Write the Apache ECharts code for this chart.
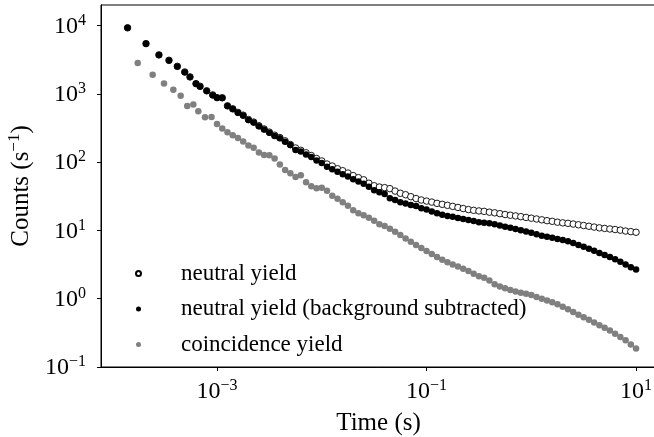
<!DOCTYPE html>
<html>
<head>
<meta charset="utf-8">
<script src="https://cdn.jsdelivr.net/npm/echarts@6/dist/echarts.min.js"></script>
<style>
  html, body { margin: 0; padding: 0; background: #fff; }
  #chart { width: 654px; height: 437px; }
</style>
</head>
<body>
<div id="chart"></div>
<script>
// Early, sparse time bins (s) for the neutral channel
const neutralEarlyTimes = [1.40e-4, 2.10e-4, 2.79e-4, 3.48e-4, 4.18e-4, 4.92e-4, 5.52e-4, 6.30e-4, 6.89e-4, 7.97e-4, 9.10e-4];
// Early, sparse time bins (s) for the coincidence channel
const coincEarlyTimes = [1.75e-4, 2.43e-4, 3.12e-4, 3.83e-4, 4.50e-4, 5.20e-4, 5.94e-4, 6.63e-4, 7.68e-4, 8.86e-4];
// Logarithmic bins shared by all channels, 1 ms .. 10 s
const logBinTimes = [
  1.000e-3, 1.122e-3, 1.259e-3, 1.413e-3, 1.585e-3, 1.778e-3, 1.995e-3, 2.239e-3, 2.512e-3, 2.818e-3,
  3.162e-3, 3.548e-3, 3.981e-3, 4.467e-3, 5.012e-3, 5.623e-3, 6.310e-3, 7.079e-3, 7.943e-3, 8.913e-3,
  1.000e-2, 1.122e-2, 1.259e-2, 1.413e-2, 1.585e-2, 1.778e-2, 1.995e-2, 2.239e-2, 2.512e-2, 2.818e-2,
  3.162e-2, 3.548e-2, 3.981e-2, 4.467e-2, 5.012e-2, 5.623e-2, 6.310e-2, 7.079e-2, 7.943e-2, 8.913e-2,
  0.1000, 0.1122, 0.1259, 0.1413, 0.1585, 0.1778, 0.1995, 0.2239, 0.2512, 0.2818,
  0.3162, 0.3548, 0.3981, 0.4467, 0.5012, 0.5623, 0.6310, 0.7079, 0.7943, 0.8913,
  1.000, 1.122, 1.259, 1.413, 1.585, 1.778, 1.995, 2.239, 2.512, 2.818,
  3.162, 3.548, 3.981, 4.467, 5.012, 5.623, 6.310, 7.079, 7.943, 8.913,
  10.00
];

// Count rates (1/s)
const neutralYield = [
  9260, 5440, 3720, 3100, 2530, 2090, 1770, 1410, 1290, 1110, 965,
  880, 878, 668, 604, 535, 487, 421, 386, 341, 306,
  275, 248, 229, 205, 181, 161, 149, 137, 125, 113,
  104, 93.8, 87.6, 80.0, 74.8, 69.2, 63.5, 59.2, 55.1, 49.1,
  45.1, 43.2, 42.3, 40.9, 37.7, 35.0, 33.3, 31.2, 29.3, 27.9,
  26.9, 26.0, 24.9, 24.1, 23.3, 22.5, 21.7, 20.9, 20.2, 19.7,
  19.3, 19.0, 18.5, 18.1, 17.6, 17.1, 16.7, 16.3, 15.9, 15.5,
  15.1, 14.7, 14.3, 13.9, 13.6, 13.2, 12.9, 12.7, 12.4, 12.1,
  11.8, 11.5, 11.2, 10.9, 10.7, 10.5, 10.3, 10.1, 9.8, 9.6,
  9.4
];
const neutralYieldBgSub = [
  9250, 5430, 3710, 3090, 2520, 2080, 1760, 1400, 1280, 1100, 957,
  873, 870, 662, 598, 529, 481, 415, 380, 335, 300,
  269, 242, 223, 199, 178, 150, 143, 129, 119, 106,
  97.3, 85.9, 78.4, 72.5, 66.2, 61.4, 56.1, 51.9, 48.3, 43.6,
  38.7, 36.2, 34.2, 29.6, 27.8, 25.8, 24.7, 23.6, 22.7, 21.2,
  20.2, 19.0, 17.8, 17.0, 16.3, 15.8, 15.2, 14.7, 14.2, 13.7,
  13.2, 12.9, 12.7, 12.3, 11.8, 11.3, 10.9, 10.5, 10.1, 9.67,
  9.25, 8.79, 8.39, 8.08, 7.78, 7.50, 7.25, 6.94, 6.57, 6.14,
  5.76, 5.40, 5.05, 4.69, 4.36, 4.08, 3.78, 3.48, 3.16, 2.88,
  2.67
];
const coincidenceYield = [
  2830, 1900, 1417, 1145, 935, 666, 696, 557, 454, 459,
  362, 311, 275, 248, 226, 201, 175, 162, 138, 127,
  126, 113, 92.2, 76.5, 68.9, 60.8, 64.4, 50.8, 44.4, 41.5,
  42.0, 38.1, 32.2, 29.2, 25.8, 22.9, 19.8, 17.8, 16.7, 15.3,
  13.8, 12.3, 11.6, 10.6, 9.54, 8.56, 7.63, 6.82, 6.14, 5.55,
  5.00, 4.53, 4.09, 3.73, 3.42, 3.16, 2.97, 2.74, 2.55, 2.32,
  2.13, 2.02, 1.85, 1.63, 1.51, 1.42, 1.34, 1.27, 1.22, 1.18,
  1.13, 1.06, 1.00, 0.941, 0.891, 0.833, 0.763, 0.699, 0.640, 0.582,
  0.535, 0.490, 0.447, 0.408, 0.375, 0.342, 0.307, 0.276, 0.247, 0.213,
  0.187
];

// Tick positions
const xTicks = [1e-3, 1e-1, 1e1];
const yTicks = [1e-1, 1e0, 1e1, 1e2, 1e3, 1e4];
const yMinorTicks = [];
for (let e = -1; e <= 3; e++) {
  for (let k = 2; k <= 9; k++) yMinorTicks.push(k * Math.pow(10, e));
}

const seriesNames = ['neutral yield', 'neutral yield (background subtracted)', 'coincidence yield'];

const FONT = 'Liberation Serif';
const neutralTimes = neutralEarlyTimes.concat(logBinTimes);
const coincTimes = coincEarlyTimes.concat(logBinTimes);
const pairs = (xs, ys) => xs.map((x, i) => [x, ys[i]]);

function powerLabel(value) {
  const e = Math.round(Math.log10(value));
  const s = e < 0 ? '\u2212' + Math.abs(e) : String(e);
  return '{b|10}{s|' + s + '}';
}
const powerRich = {
  b: { fontFamily: FONT, fontSize: 24, color: '#000', lineHeight: 26, verticalAlign: 'bottom' },
  s: { fontFamily: FONT, fontSize: 16, color: '#000', lineHeight: 16, verticalAlign: 'top' }
};

const chart = echarts.init(document.getElementById('chart'), null, { renderer: 'canvas' });
chart.setOption({
  animation: false,
  backgroundColor: '#fff',
  grid: {
    left: 101, top: 5, right: -2, bottom: 70,
    outerBoundsMode: 'none', containLabel: false,
    show: true, borderColor: '#000', borderWidth: 1, backgroundColor: 'transparent'
  },
  legend: {
    orient: 'vertical',
    left: 130, top: 257,
    itemWidth: 5, itemHeight: 5, itemGap: 12.5,
    textStyle: { fontFamily: FONT, fontSize: 23, color: '#000', lineHeight: 22, padding: [0, 0, 0, 35] },
    data: seriesNames
  },
  xAxis: {
    type: 'log', logBase: 10,
    min: 7.81e-5, max: 15.5,
    axisLine: { show: true, lineStyle: { color: '#000', width: 1 } },
    axisTick: { show: true, customValues: xTicks, length: 4, lineStyle: { color: '#000', width: 1 } },
    axisLabel: { customValues: xTicks, formatter: powerLabel, rich: powerRich, margin: 11 },
    minorTick: { show: false },
    splitLine: { show: false },
    name: 'Time (s)',
    nameLocation: 'middle', nameGap: 44,
    nameTextStyle: { fontFamily: FONT, fontSize: 25, color: '#000' }
  },
  yAxis: [
    {
      type: 'log', logBase: 10,
      min: 0.1, max: 2.0e4,
      axisLine: { show: true, lineStyle: { color: '#000', width: 1 } },
      axisTick: { show: true, customValues: yTicks, length: 4, lineStyle: { color: '#000', width: 1 } },
      axisLabel: { customValues: yTicks, formatter: powerLabel, rich: powerRich, margin: 15 },
      splitLine: { show: false },
      name: '{a|Counts (s}{s|\u22121}{a|)}',
      nameLocation: 'middle', nameGap: 66, nameRotate: 90,
      nameTextStyle: {
        rich: {
          a: { fontFamily: FONT, fontSize: 25, color: '#000', lineHeight: 28, verticalAlign: 'bottom' },
          s: { fontFamily: FONT, fontSize: 17, color: '#000', lineHeight: 17, verticalAlign: 'top' }
        }
      }
    },
    {
      type: 'log', logBase: 10,
      min: 0.1, max: 2.0e4,
      axisLine: { show: false },
      axisTick: { show: true, customValues: yMinorTicks, length: 2.2, lineStyle: { color: '#000', width: 0.8 } },
      axisLabel: { show: false },
      splitLine: { show: false }
    }
  ],
  series: [
    {
      name: seriesNames[0], type: 'scatter', yAxisIndex: 0,
      symbol: 'circle', symbolSize: 6.5, z: 2,
      itemStyle: { color: '#fff', borderColor: '#000', borderWidth: 0.9, opacity: 1 },
      data: pairs(neutralTimes, neutralYield)
    },
    {
      name: seriesNames[1], type: 'scatter', yAxisIndex: 0,
      symbol: 'circle', symbolSize: 6.5, z: 3,
      itemStyle: { color: '#000', opacity: 1 },
      data: pairs(neutralTimes, neutralYieldBgSub)
    },
    {
      name: seriesNames[2], type: 'scatter', yAxisIndex: 0,
      symbol: 'circle', symbolSize: 6.5, z: 4,
      itemStyle: { color: '#808080', opacity: 1 },
      data: pairs(coincTimes, coincidenceYield)
    }
  ]
});
</script>
</body>
</html>
